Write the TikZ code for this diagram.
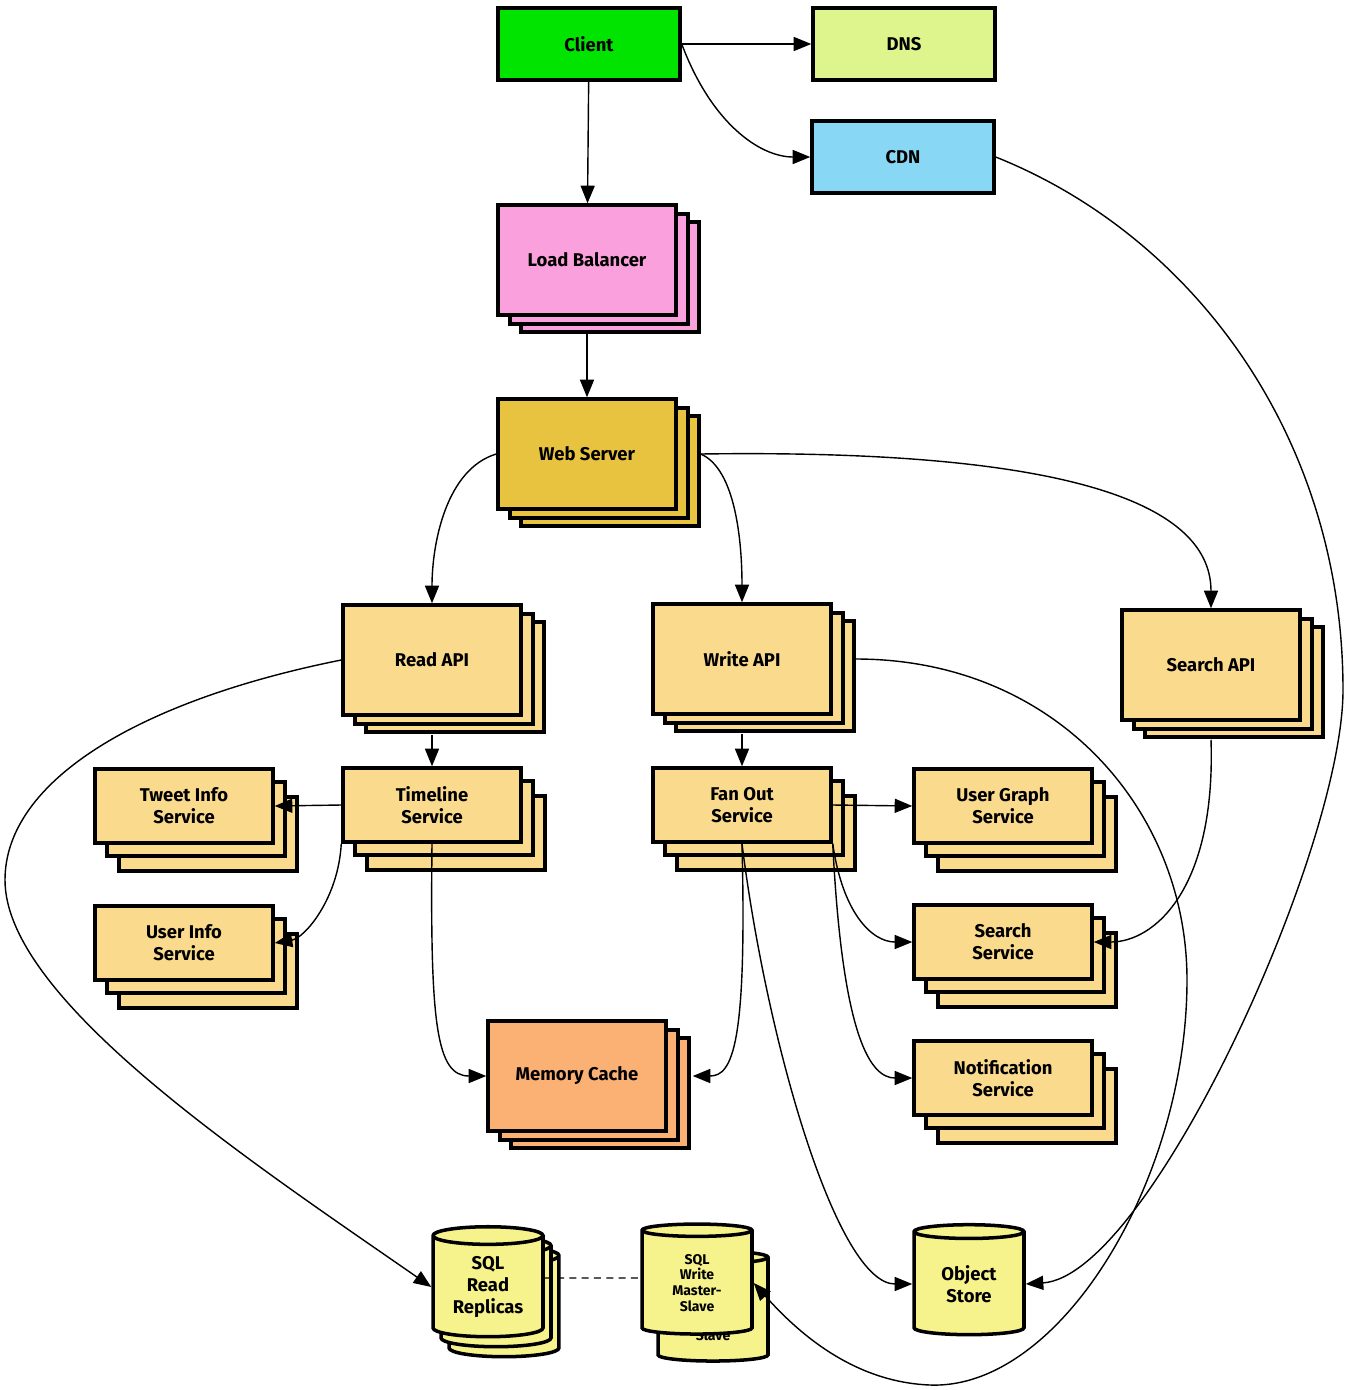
\documentclass[tikz,border=0pt]{standalone}
\usepackage{fontspec}
\setmainfont{Fira Sans}
\usetikzlibrary{arrows.meta,shapes.geometric}
\definecolor{clientgreen}{RGB}{0,228,0}
\definecolor{dnsgreen}{RGB}{221,245,140}
\definecolor{cdnblue}{RGB}{136,216,245}
\definecolor{lbpink}{RGB}{250,160,220}
\definecolor{webgold}{RGB}{232,195,64}
\definecolor{svctan}{RGB}{250,218,140}
\definecolor{cacheorange}{RGB}{251,176,116}
\definecolor{dbyellow}{RGB}{247,243,140}
\begin{document}
\begin{tikzpicture}[x=0.02cm,y=-0.02cm]
	% styles
	\tikzstyle{box}=[draw,line width=2pt,inner sep=0pt,align=center,font=\bfseries\fontsize{10.5}{12.5}\selectfont]
	\tikzstyle{stack}=[preaction={draw,fill,transform canvas={shift={(0.46cm,-0.34cm)}}},
		preaction={draw,fill,transform canvas={shift={(0.24cm,-0.18cm)}}}]
	\tikzstyle{deepstack}=[preaction={draw,fill,transform canvas={shift={(0.48cm,-0.56cm)}}},
		preaction={draw,fill,transform canvas={shift={(0.24cm,-0.26cm)}}}]
	\tikzstyle{dbstack}=[preaction={draw,fill,transform canvas={shift={(0.32cm,-0.4cm)}}},
		preaction={draw,fill,transform canvas={shift={(0.16cm,-0.2cm)}}}]
	\tikzstyle{flat}=[box,minimum width=3.64cm,minimum height=1.44cm]
	\tikzstyle{big}=[box,stack,minimum width=3.56cm,minimum height=2.2cm]
	\tikzstyle{svc}=[box,deepstack,fill=svctan,minimum width=3.56cm,minimum height=1.48cm]
	\tikzstyle{db}=[box,cylinder,shape border rotate=90,aspect=0.25,minimum width=2.2cm,minimum height=2.2cm,fill=dbyellow]
	\tikzstyle{small}=[font=\bfseries\fontsize{8}{9}\selectfont]
	\tikzstyle{link}=[line width=0.8pt,-{Triangle[length=10pt,width=8pt]}]

	% bounding box
	\useasboundingbox (0,0) rectangle (1348,1390);

	% top row
	\node[flat,fill=clientgreen] (client) at (589,44) {Client};
	\node[flat,fill=dnsgreen] (dns) at (904,44) {DNS};
	\node[flat,fill=cdnblue] (cdn) at (903,157) {CDN};

	% front tier
	\node[big,fill=lbpink] (lb) at (587,260) {Load Balancer};
	\node[big,fill=webgold] (web) at (587,454) {Web Server};

	% apis
	\node[big,fill=svctan] (readapi) at (432,660) {Read API};
	\node[big,fill=svctan] (writeapi) at (742,659) {Write API};
	\node[big,fill=svctan] (searchapi) at (1211,665) {Search API};

	% services
	\node[svc] (tweetinfo) at (184,806) {Tweet Info\\Service};
	\node[svc] (timeline) at (432,805) {Timeline\\Service};
	\node[svc] (userinfo) at (184,943) {User Info\\Service};
	\node[svc] (fanout) at (742,805) {Fan Out\\Service};
	\node[svc] (usergraph) at (1003,806) {User Graph\\Service};
	\node[svc] (searchsvc) at (1003,942) {Search\\Service};
	\node[svc] (notify) at (1003,1078) {Notification\\Service};
	\node[big,fill=cacheorange] (cache) at (577,1076) {Memory Cache};

	% storage
	\node[db,dbstack] (sqlread) at (488,1287) {SQL\\Read\\Replicas};
	\node[db,small] (sqlslave) at (713,1310) {\phantom{SQL}\\\phantom{Write}\\\phantom{Master-}\\\phantom{Slave}};
	\node[small] (slavepeek) at (713,1335) {Slave};
	\node[db,small] (sqlwrite) at (697,1283) {SQL\\Write\\Master-\\Slave};
	\node[db] (objstore) at (969,1284) {Object\\Store};

	% bends
	\coordinate (leftbend) at (5,880);
	\coordinate (rightbend) at (1187,980);
	\coordinate (lowbend) at (930,1385);
	\coordinate (farbend) at (1343,690);

	% connectors
	\draw[link] (client) -- (dns);
	\draw[link] (client.east) .. controls +(30,80) and +(-50,0) .. (cdn.west);
	\draw[link] (client) -- (lb);
	\draw[link] ([yshift=-0.3cm]lb.south) -- (web);
	\draw[link] (web.west) .. controls +(-50,15) and +(0,-60) .. (readapi.north);
	\draw[link] ([xshift=0.46cm]web.east) .. controls +(35,15) and +(0,-60) .. (writeapi.north);
	\draw[link] ([xshift=0.46cm]web.east) .. controls +(350,-5) and +(0,-110) .. (searchapi.north);
	\draw[link] ([yshift=-0.36cm]readapi.south) -- (timeline);
	\draw[link] ([yshift=-0.36cm]writeapi.south) -- (fanout);
	\draw[link] (timeline.west) -- (tweetinfo.east);
	\draw[link] (timeline.south west) .. controls +(-3,55) and +(30,-5) .. (userinfo.east);
	\draw[link] (timeline.south) .. controls +(-2,180) and +(-50,0) .. (cache.west);
	\draw[link] (fanout.east) -- (usergraph.west);
	\draw[link] (fanout.south east) .. controls +(10,70) and +(-40,0) .. (searchsvc.west);
	\draw[link] (fanout.south east) .. controls +(10,200) and +(-40,0) .. (notify.west);
	\draw[link] (fanout.south) .. controls +(5,200) and +(40,0) .. ([xshift=0.5cm]cache.east);
	\draw[link] (fanout.south) .. controls +(25,200) and +(-75,0) .. (objstore.west);
	\draw[link] ([yshift=-0.36cm]searchapi.south) .. controls +(5,150) and +(60,0) .. (searchsvc.east);
	\draw[link] (readapi.west) .. controls +(-200,40) and +(0,-100) .. (leftbend)
		.. controls +(0,120) and +(-180,-125) .. (sqlread.west);
	\draw[link] ([xshift=0.46cm]writeapi.east) .. controls +(200,0) and +(0,-170) .. (rightbend)
		.. controls +(0,200) and +(130,5) .. (lowbend)
		.. controls +(-80,-3) and +(40,45) .. (sqlwrite.east);
	\draw[link] (cdn.east) .. controls +(200,80) and +(0,-250) .. (farbend)
		.. controls +(0,160) and +(123,-8) .. (objstore.east);
	\draw[line width=0.8pt,dash pattern=on 4pt off 3pt] ([yshift=0.18cm]sqlread.east) -- ([yshift=0.1cm]sqlwrite.west);
\end{tikzpicture}
\end{document}
